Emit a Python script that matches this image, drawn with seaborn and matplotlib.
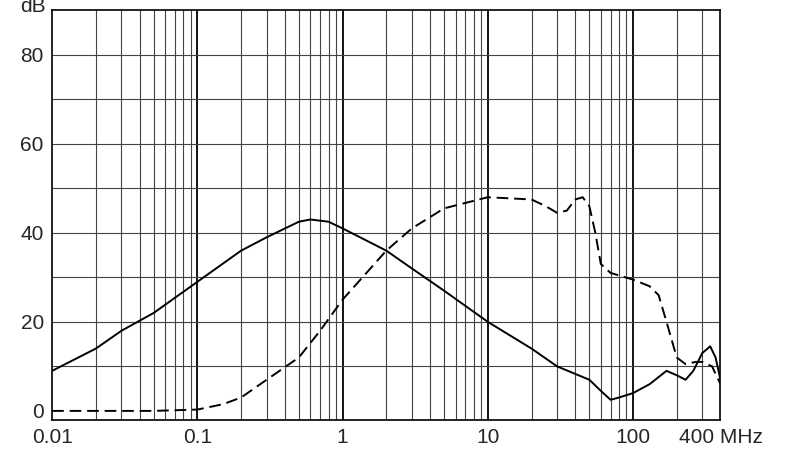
import matplotlib
matplotlib.use("Agg")
import matplotlib.pyplot as plt
import seaborn as sns
import numpy as np

# solid curve (dB vs MHz)
solid_f = [0.01, 0.02, 0.03, 0.05, 0.1, 0.2, 0.3, 0.5, 0.6, 0.8, 1, 2, 3, 5, 10, 20, 30, 50, 60, 70, 80, 100, 130, 170, 200, 230, 260, 300, 340, 370, 400]
solid_db = [9, 14, 18, 22, 29, 36, 39, 42.5, 43, 42.5, 41, 36, 32, 27, 20, 14, 10, 7, 4.5, 2.5, 3, 4, 6, 9, 8, 7, 9, 13, 14.5, 12, 7]
# dashed curve
dash_f = [0.01, 0.05, 0.1, 0.15, 0.2, 0.3, 0.5, 0.7, 1, 2, 3, 5, 10, 20, 25, 30, 35, 40, 45, 50, 55, 60, 70, 100, 130, 150, 170, 200, 230, 270, 300, 350, 400]
dash_db = [0, 0, 0.3, 1.5, 3, 7, 12, 18, 25, 36, 41, 45.5, 48, 47.5, 46, 44.5, 45, 47.5, 48, 46, 40, 33, 31, 29.5, 28, 26, 20, 12, 10.5, 11, 11, 10, 6]

sns.set_style("white")
plt.rcParams['font.family'] = ['Liberation Sans', 'DejaVu Sans']

fig, ax = plt.subplots(figsize=(7.9, 4.68), dpi=100)
fig.subplots_adjust(left=0.066, right=0.912, top=0.978, bottom=0.103)

sns.lineplot(x=solid_f, y=solid_db, ax=ax, color='black', linewidth=1.4)
sns.lineplot(x=dash_f, y=dash_db, ax=ax, color='black', linewidth=1.4, linestyle=(0, (6, 3)))

ax.set_xscale('log')
ax.set_xlim(0.01, 400)
ax.set_ylim(-2, 90)

minor = [m * 10.0 ** e for e in range(-2, 3) for m in range(2, 10) if m * 10.0 ** e < 400]
for v in minor:
    ax.axvline(v, color='#444444', linewidth=0.8, zorder=0)
for v in [0.1, 1, 10, 100]:
    ax.axvline(v, color='black', linewidth=1.3, zorder=0)
for y in range(10, 90, 10):
    ax.axhline(y, color='#444444', linewidth=0.8, zorder=0)

ax.set_xticks([0.01, 0.1, 1, 10, 100, 400])
ax.set_xticklabels(['0.01', '0.1', '1', '10', '100', '400 MHz'])
ax.xaxis.set_minor_locator(matplotlib.ticker.NullLocator())
ax.set_yticks([0, 20, 40, 60, 80])
ax.tick_params(length=0, labelsize=15, pad=6)
ax.text(-0.01, 1.01, 'dB', transform=ax.transAxes, ha='right', va='center', fontsize=15)
for s in ax.spines.values():
    s.set_visible(True)
    s.set_color('black')
    s.set_linewidth(1.2)

fig.savefig('out.png', dpi=100)
